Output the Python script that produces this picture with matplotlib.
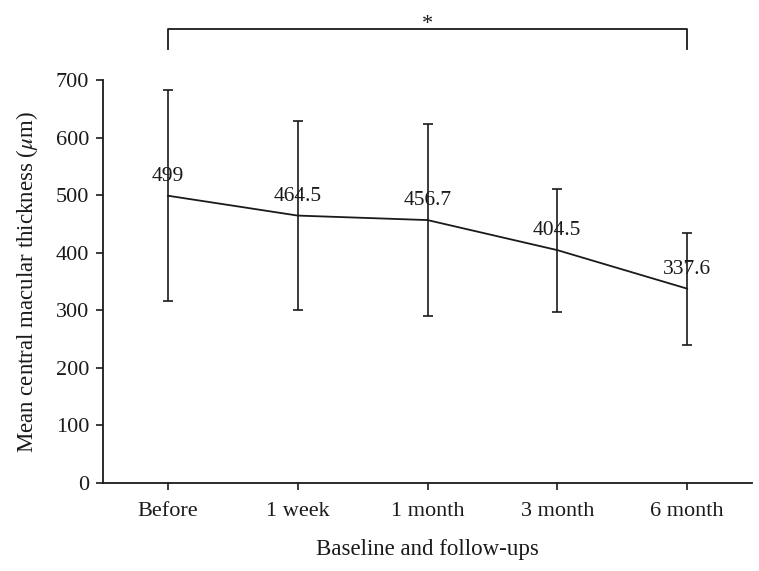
import matplotlib
matplotlib.use("Agg")
import matplotlib.pyplot as plt

categories = ["Before", "1 week", "1 month", "3 month", "6 month"]
means = [499, 464.5, 456.7, 404.5, 337.6]
sds = [183, 163.5, 167, 107, 97.5]
labels = ["499", "464.5", "456.7", "404.5", "337.6"]
yticks = [0, 100, 200, 300, 400, 500, 600, 700]

plt.rcParams['font.family'] = ['Liberation Serif', 'DejaVu Serif']
plt.rcParams['mathtext.fontset'] = 'stix'
col = "#1a1a1a"

fig = plt.figure(figsize=(7.59, 5.71), dpi=100)
ax = fig.add_axes([103/759, 1-483/571, (752-103)/759, (483-80)/571])
x = list(range(len(categories)))
ax.errorbar(x, means, yerr=sds, color=col, lw=1.3, elinewidth=1.2,
            capsize=3.5, capthick=1.2)
for xi, m, lab in zip(x, means, labels):
    ax.annotate(lab, (xi, m), xytext=(0, 7), textcoords="offset points",
                ha="center", va="bottom", fontsize=15.5, color=col)

ax.set_xlim(-0.5, 4.5)
ax.set_ylim(0, 700)
ax.set_yticks(yticks)
ax.set_xticks(x)
ax.set_xticklabels(categories)
ax.tick_params(axis="both", labelsize=16, colors=col, length=5, width=1.2, direction="out")
ax.tick_params(axis="x", pad=9)
ax.tick_params(axis="y", pad=5)
for s in ["top", "right"]:
    ax.spines[s].set_visible(False)
for s in ["left", "bottom"]:
    ax.spines[s].set_linewidth(1.3)
    ax.spines[s].set_color(col)
ax.set_ylabel("Mean central macular thickness ($\\mathit{\\mu}$m)", fontsize=16.5, color=col, labelpad=11)
ax.set_xlabel("Baseline and follow-ups", fontsize=16.5, color=col, labelpad=13)

# significance bracket
px = 403 / 700
ytop = 700 + (80 - 29) / px
ybot = 700 + (80 - 49) / px
ax.plot([0, 0, 4, 4], [ybot, ytop, ytop, ybot], color=col, lw=1.3, clip_on=False)
ax.text(2, 700 + (80 - 29) / px, "*", ha="center", va="baseline", fontsize=16, color=col)

fig.savefig("out.png", dpi=100)
